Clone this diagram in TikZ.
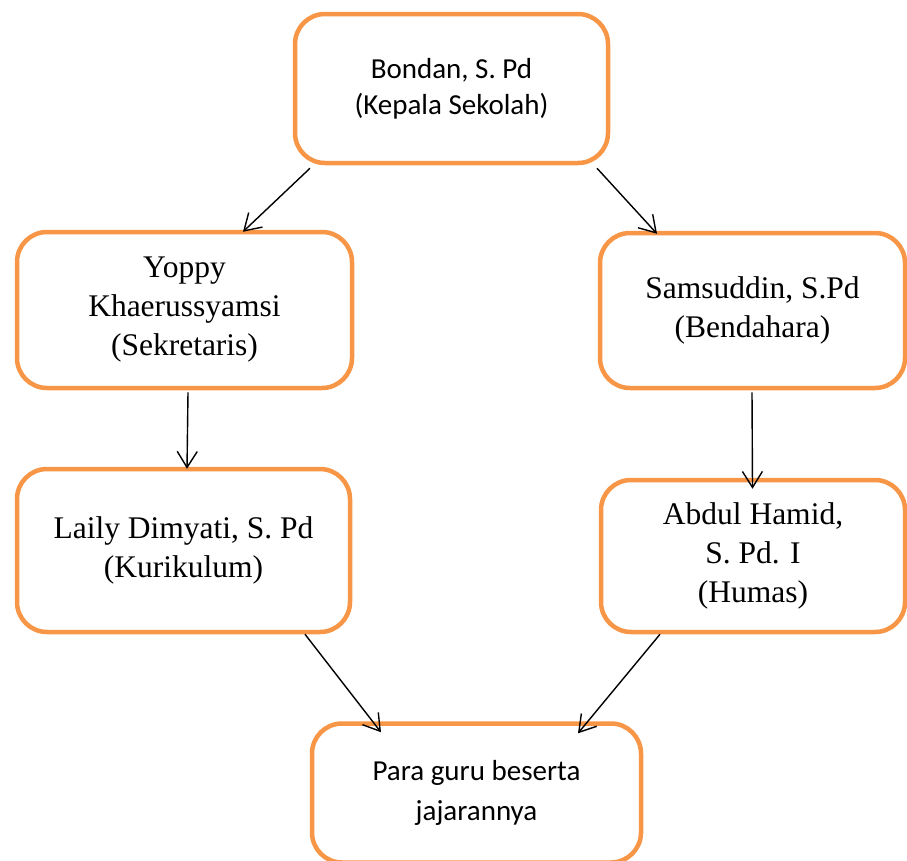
\documentclass[tikz,border=0pt]{standalone}
\usepackage{fontspec}
\setmainfont{Liberation Serif}
\newfontfamily\calib{Carlito}
\usetikzlibrary{arrows.meta}
\definecolor{boxorange}{HTML}{F79646}
\begin{document}
\begin{tikzpicture}[x=1pt,y=-1pt,
  orgbox/.style={draw=boxorange,line width=4.5pt,rounded corners=30pt,
    align=center,inner sep=0pt,fill=white},
  sanstext/.style={font=\calib\fontsize{29}{36}\selectfont},
  seriftext/.style={font=\fontsize{31.5}{39}\selectfont},
  conn/.style={line width=1.4pt,-{Straight Barb[length=16pt,width=20pt,line width=1.4pt]}}]
\useasboundingbox (0,0) rectangle (907,860);
\node[orgbox,sanstext,minimum width=313pt,minimum height=149pt] (kepsek) at (451.5,88.5)
  {Bondan, S. Pd\\(Kepala Sekolah)};
\node[orgbox,seriftext,minimum width=335pt,minimum height=156pt] (sek) at (184.5,310)
  {Yoppy\\Khaerussyamsi\\(Sekretaris)};
\node[orgbox,seriftext,minimum width=305pt,minimum height=155pt] (bend) at (752.5,310.5)
  {Samsuddin, S.Pd\\(Bendahara)};
\node[orgbox,seriftext,minimum width=333pt,minimum height=163pt] (kur) at (183.5,550.5)
  {Laily Dimyati, S. Pd\\(Kurikulum)};
\node[orgbox,seriftext,minimum width=304pt,minimum height=152pt] (humas) at (753,556)
  {Abdul Hamid,\\S. Pd. I\\(Humas)};
\node[orgbox,sanstext,minimum width=329pt,minimum height=139pt] (guru) at (476.5,793)
  {Para guru beserta\\[4pt]jajarannya};
\draw[conn] ([xshift=-141.5pt,yshift=-3pt]kepsek.south) -- ([xshift=58.5pt,yshift=-2pt]sek.north);
\draw[conn] ([xshift=145.5pt,yshift=-3pt]kepsek.south) -- ([xshift=-95.5pt,yshift=-3pt]bend.north);
\draw[conn] ([xshift=3.5pt,yshift=-2pt]sek.south) -- ([xshift=3.5pt,yshift=-2pt]kur.north);
\draw[conn] ([xshift=-0.5pt,yshift=-2pt]bend.south) -- ([xshift=-0.5pt,yshift=-11pt]humas.north);
\draw[conn] ([xshift=121.5pt]kur.south) -- ([xshift=-95.5pt,yshift=-11pt]guru.north);
\draw[conn] ([xshift=-93pt]humas.south) -- ([xshift=101.5pt,yshift=-12pt]guru.north);
\end{tikzpicture}
\end{document}
